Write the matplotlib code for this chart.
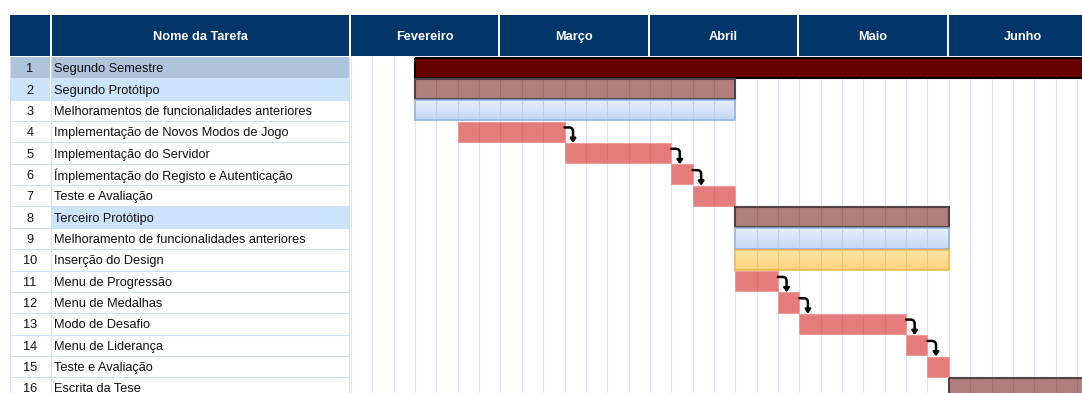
import numpy as np
import matplotlib.pyplot as plt
from matplotlib.colors import LinearSegmentedColormap

# ---- schedule data (units: weeks from start of February) ----
months = ["Fevereiro", "Março", "Abril", "Maio", "Junho"]
weeks_per_month = 7

tasks = [
    "Segundo Semestre",
    "Segundo Protótipo",
    "Melhoramentos de funcionalidades anteriores",
    "Implementação de Novos Modos de Jogo",
    "Implementação do Servidor",
    "Ímplementação do Registo e Autenticação",
    "Teste e Avaliação",
    "Terceiro Protótipo",
    "Melhoramento de funcionalidades anteriores",
    "Inserção do Design",
    "Menu de Progressão",
    "Menu de Medalhas",
    "Modo de Desafio",
    "Menu de Liderança",
    "Teste e Avaliação",
    "Escrita da Tese",
]
starts = [3, 3, 3, 5, 10, 15, 16, 18, 18, 18, 18, 20, 21, 26, 27, 28]
durations = [33, 15, 15, 5, 5, 1, 2, 10, 10, 10, 2, 1, 5, 1, 1, 8]
bar_kind = ["semestre", "fase", "melhoria", "tarefa", "tarefa", "tarefa", "tarefa",
            "fase", "melhoria", "design", "tarefa", "tarefa", "tarefa", "tarefa",
            "tarefa", "fase"]
# (predecessor, successor) pairs, 1-based task numbers
links = [(4, 5), (5, 6), (6, 7), (11, 12), (12, 13), (13, 14), (14, 15)]

# table row shading: name column / number column
name_shade = ["semestre", "fase", None, None, None, None, None, "fase",
              None, None, None, None, None, None, None, None]
num_shade = ["semestre", "fase"] + [None] * 14

# ---- layout (pixel based, one week column = 21.35 px) ----
W, H = 1082, 393
PX = 21.35
GX0 = 351          # left edge of the gantt area
BODY_Y0 = 57       # top of first task row
HDR_Y0, HDR_Y1 = 15, 56


def ux(px):
    return (px - GX0) / PX


def uy(py):
    return (py - BODY_Y0) / PX


NAVY = "#02366B"
SHADE = {"semestre": "#AFC3DA", "fase": "#CCE3FC"}
GRID = "#D9E7FA"
BORDER = "#CFE0F6"
FS = 9.2

plt.rcParams["font.family"] = ["Liberation Sans", "DejaVu Sans"]

fig = plt.figure(figsize=(W / 100, H / 100), dpi=100)
ax = fig.add_axes([0, 0, 1, 1])
ax.set_axis_off()

n = len(tasks)
x_num0, x_num1 = ux(10), ux(50)
x_nam0, x_nam1 = ux(52), ux(349)
x_right = ux(W)

# ---- header ----
hy0, hy1 = uy(HDR_Y0), uy(HDR_Y1)
hmid = (hy0 + hy1) / 2
ax.fill_between([x_num0, x_num1], hy0, hy1, color=NAVY, lw=0)
ax.fill_between([x_nam0, x_nam1], hy0, hy1, color=NAVY, lw=0)
ax.text((x_nam0 + x_nam1) / 2, hmid, "Nome da Tarefa", color="white",
        fontsize=FS, fontweight="bold", ha="center", va="center_baseline")
gap = 2 / PX
for k, m in enumerate(months):
    m0 = k * weeks_per_month
    m1 = m0 + weeks_per_month - gap
    ax.fill_between([m0, m1], hy0, hy1, color=NAVY, lw=0)
    ax.text((m0 + m1) / 2, hmid, m, color="white",
            fontsize=FS, fontweight="bold", ha="center", va="center_baseline")

# ---- table body ----
for i in range(n):
    y0, y1 = i, i + 1
    if num_shade[i]:
        ax.fill_between([x_num0, x_num1], y0, y1, color=SHADE[num_shade[i]], lw=0)
    if name_shade[i]:
        ax.fill_between([x_nam0, x_nam1], y0, y1, color=SHADE[name_shade[i]], lw=0)
    ax.text((x_num0 + x_num1) / 2, i + 0.5, str(i + 1), fontsize=FS,
            ha="center", va="center_baseline", color="#111111")
    ax.text(x_nam0 + 2 / PX, i + 0.5, tasks[i], fontsize=FS,
            ha="left", va="center_baseline", color="#111111")
ax.hlines(np.arange(1, n + 1), x_num0, x_nam1, color=BORDER, lw=0.8)
ax.vlines([x_num0, x_num1 + 1 / PX, x_nam1], 0, n + 1, color=BORDER, lw=0.8)

# ---- week grid ----
ax.vlines(np.arange(0, int(x_right) + 1), 0, n + 1, color=GRID, lw=0.8, zorder=0)


def gradient_bar(x0, x1, y0, y1, c_top, c_bot, edge):
    cmap = LinearSegmentedColormap.from_list("g", [c_top, c_bot])
    grad = np.linspace(0, 1, 64).reshape(-1, 1)
    ax.imshow(grad, cmap=cmap, extent=(x0, x1, y1, y0), aspect="auto",
              interpolation="bilinear", zorder=2)
    ax.add_patch(plt.Rectangle((x0, y0), x1 - x0, y1 - y0, fill=False,
                               ec=edge, lw=1.2, zorder=4))


style = {
    "semestre": dict(fc="#660000", ec="#000000", lw=1.5, div=None),
    "fase": dict(fc="#B17F7E", ec="#4F4444", lw=1.5, div="#A06E6C"),
    "tarefa": dict(fc="#E57C7C", ec="#EE9A9A", lw=0.8, div="#D86E6E"),
}

pad = 0.03
for i in range(n):
    s, e = starts[i], starts[i] + durations[i]
    y0, y1 = i + pad, i + 1 - pad
    kind = bar_kind[i]
    if kind == "melhoria":
        gradient_bar(s, e, y0, y1, "#E8F1FD", "#C3D6F1", "#93B2E0")
        div = "#BACFEE"
    elif kind == "design":
        gradient_bar(s, e, y0, y1, "#FFE7A8", "#FDD27A", "#E8B84C")
        div = "#EFC46E"
    else:
        st = style[kind]
        ax.barh(i + 0.5, durations[i], left=s, height=y1 - y0, color=st["fc"],
                edgecolor="none", zorder=2)
        ax.add_patch(plt.Rectangle((s, y0), e - s, y1 - y0, fill=False,
                                   ec=st["ec"], lw=st["lw"], zorder=4))
        div = st["div"]
    if div:
        inner = np.arange(s + 1, e)
        ax.vlines(inner, y0, y1, color=div, lw=0.8, zorder=3)

# ---- dependency arrows ----
for a, b in links:
    ia, ib = a - 1, b - 1
    xe = starts[ia] + durations[ia]
    ax.annotate("", xy=(xe + 0.4, ib + 0.02), xytext=(xe, ia + 0.3),
                arrowprops=dict(arrowstyle="-|>,head_length=0.22,head_width=0.16",
                                color="black", lw=1.8,
                                connectionstyle="angle,angleA=0,angleB=90,rad=4",
                                shrinkA=0, shrinkB=0),
                zorder=5)

ax.set_xlim(ux(0), ux(W))
ax.set_ylim(uy(H), uy(0))

fig.savefig("out.png", dpi=100)
